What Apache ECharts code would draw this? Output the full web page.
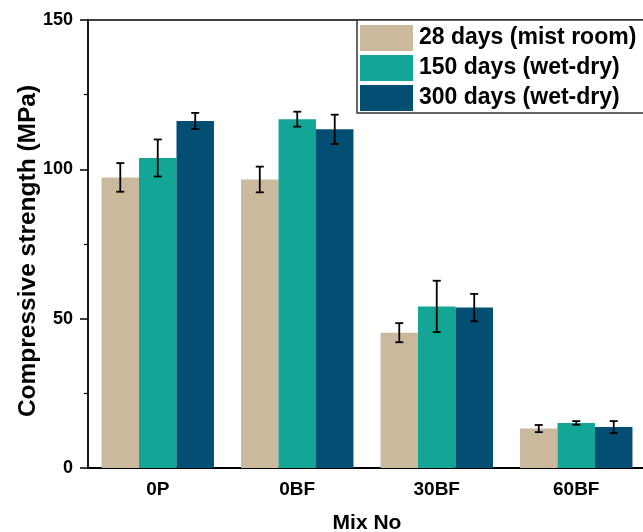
<!DOCTYPE html>
<html>
<head>
<meta charset="utf-8">
<script src="https://cdn.jsdelivr.net/npm/echarts@6/dist/echarts.min.js"></script>
<style>
  html, body { margin: 0; padding: 0; background: #fff; }
  #chart { width: 643px; height: 532px; }
</style>
</head>
<body>
<div id="chart"></div>
<script>
var categories = ['0P', '0BF', '30BF', '60BF'];
var seriesNames = ['28 days (mist room)', '150 days (wet-dry)', '300 days (wet-dry)'];
var mist28 = [97.3, 96.6, 45.3, 13.2];
var wetDry150 = [103.8, 116.8, 54.1, 15.1];
var wetDry300 = [116.2, 113.4, 53.7, 13.7];
var err28 = [4.8, 4.3, 3.2, 1.2];
var err150 = [6.2, 2.5, 8.6, 0.6];
var err300 = [2.7, 4.9, 4.6, 2.0];
var colors = ['#CBB99E', '#13A596', '#024F73'];

var values = [mist28, wetDry150, wetDry300];
var errors = [err28, err150, err300];
var gapRatio = 0.194;
var font = 'Liberation Sans, Arial, sans-serif';

window.onload = function () {
  var chart = echarts.init(document.getElementById('chart'));

  const errorSeries = (idx) => {
    return {
      type: 'custom',
      name: seriesNames[idx] + ' err',
      z: 10,
      silent: true,
      data: values[idx].map((v, i) => [i, v - errors[idx][i], v + errors[idx][i]]),
      renderItem: (params, api) => {
        var lo = api.coord([api.value(0), api.value(1)]);
        var hi = api.coord([api.value(0), api.value(2)]);
        var band = api.size([1, 0])[0];
        var barW = band * (1 - gapRatio) / 3;
        var x = lo[0] + (idx - 1) * barW;
        var cap = 4;
        var style = { stroke: '#000', lineWidth: 1.8, fill: null };
        return {
          type: 'group',
          children: [
            { type: 'line', shape: { x1: x, y1: hi[1], x2: x, y2: lo[1] }, style: style },
            { type: 'line', shape: { x1: x - cap, y1: hi[1], x2: x + cap, y2: hi[1] }, style: style },
            { type: 'line', shape: { x1: x - cap, y1: lo[1], x2: x + cap, y2: lo[1] }, style: style }
          ]
        };
      }
    };
  };

  var barSeries = values.map((vals, idx) => {
    return {
      name: seriesNames[idx],
      type: 'bar',
      barGap: 0,
      barCategoryGap: (gapRatio * 100) + '%',
      itemStyle: { color: colors[idx] },
      data: vals
    };
  });

  var option = {
    animation: false,
    grid: {
      left: 88,
      top: 20,
      bottom: 64,
      width: 558,
      outerBoundsMode: 'none'
    },
    legend: {
      data: seriesNames,
      left: 357,
      top: 20,
      orient: 'vertical',
      icon: 'rect',
      itemWidth: 53,
      itemHeight: 26,
      itemGap: 4,
      padding: [5, 12, 2, 3],
      borderColor: '#333',
      borderWidth: 1.5,
      backgroundColor: '#fff',
      textStyle: {
        fontFamily: font,
        fontWeight: 'bold',
        fontSize: 23,
        color: '#000',
        padding: [0, 0, 0, 1]
      }
    },
    xAxis: [
      {
        type: 'category',
        data: categories,
        name: 'Mix No',
        nameLocation: 'middle',
        nameMoveOverlap: false,
        nameGap: 45,
        nameTextStyle: { fontFamily: font, fontWeight: 'bold', fontSize: 21, color: '#000' },
        axisLine: { lineStyle: { color: '#000', width: 2 } },
        axisTick: { show: false },
        axisLabel: { fontFamily: font, fontWeight: 'bold', fontSize: 19, color: '#000', margin: 12 }
      },
      {
        type: 'category',
        position: 'top',
        data: categories,
        axisLine: { lineStyle: { color: '#000', width: 1.5 } },
        axisTick: { show: false },
        axisLabel: { show: false }
      }
    ],
    yAxis: {
      type: 'value',
      min: 0,
      max: 150,
      interval: 50,
      name: 'Compressive strength (MPa)',
      nameLocation: 'middle',
      nameMoveOverlap: false,
      nameGap: 47,
      nameTextStyle: {
        fontFamily: font, fontWeight: 'bold', fontSize: 24.5, color: '#000',
        padding: [0, 14, 0, 0]
      },
      axisLine: { show: true, lineStyle: { color: '#000', width: 1.8 } },
      axisTick: { show: true, length: 8, lineStyle: { color: '#000', width: 1.5 } },
      minorTick: { show: true, splitNumber: 2, length: 4, lineStyle: { color: '#000', width: 1.2 } },
      splitLine: { show: false },
      axisLabel: { fontFamily: font, fontWeight: 'bold', fontSize: 18, color: '#000', margin: 15 }
    },
    series: barSeries.concat([errorSeries(0), errorSeries(1), errorSeries(2)])
  };

  chart.setOption(option);
};
</script>
</body>
</html>
